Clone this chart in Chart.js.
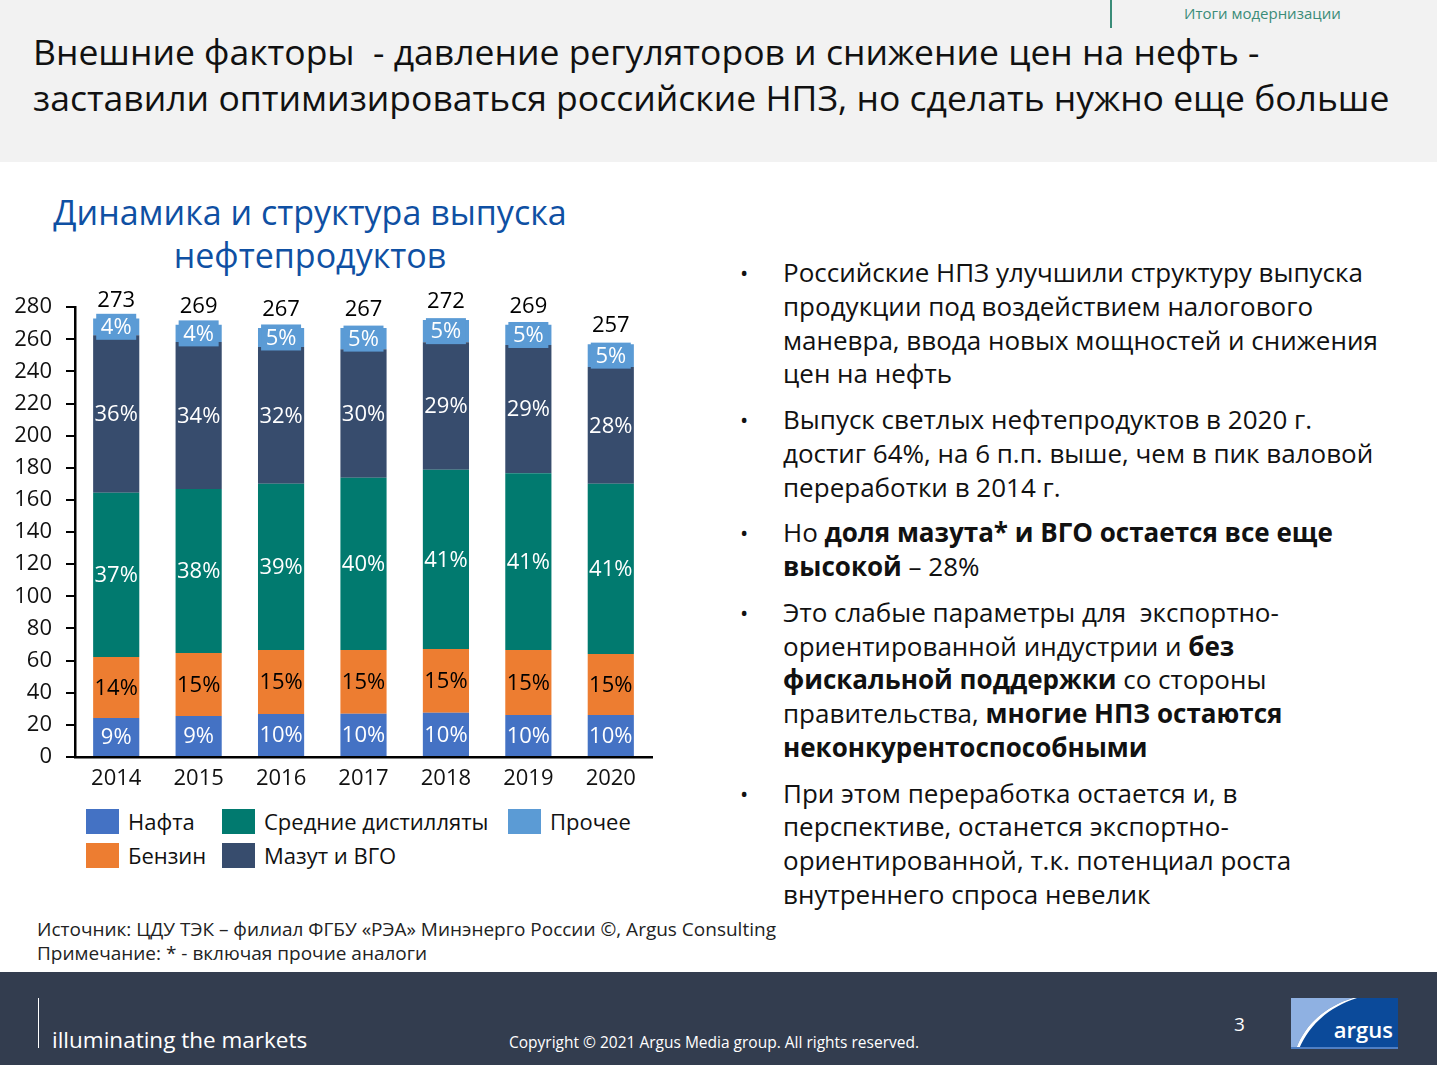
<!DOCTYPE html>
<html lang="ru">
<head>
<meta charset="utf-8">
<title>Динамика и структура выпуска нефтепродуктов</title>
<script src="https://cdn.jsdelivr.net/npm/chart.js@4.4.1/dist/chart.umd.min.js"></script>
<style>
  body { margin: 0; width: 1437px; height: 1065px; overflow: hidden; background: #fff; font-family: "Open Sans", "Noto Sans", sans-serif; color: #111; }
  .abs { position: absolute; }
  #header { left: 0; top: 0; width: 1437px; height: 162px; background: #f2f2f2; }
  #headTitle { left: 33px; top: 28px; font-size: 35.5px; line-height: 46px; white-space: nowrap; color: #111; }
  #section { left: 1184px; top: 3px; font-size: 15px; color: #3a8c78; }
  #sectionLine { left: 1110px; top: 0; width: 2px; height: 28px; background: #3a8c78; }
  #chartTitle { left: 20px; top: 191px; width: 580px; text-align: center; font-size: 34px; line-height: 43px; color: #0f50a3; }
  #chartBox { left: 0; top: 280px; width: 670px; height: 520px; }
  #legend { left: 86px; top: 804px; display: grid; grid-template-columns: 136px 286px auto; grid-template-rows: 34px 34px; grid-auto-flow: column; font-size: 22px; }
  #legend .it { display: flex; align-items: center; white-space: nowrap; }
  #legend .sw { width: 33px; height: 25px; margin-right: 9px; }
  #bullets { left: 740px; top: 256px; width: 690px; font-size: 26px; line-height: 33.75px; }
  #bullets .p { position: relative; padding-left: 43px; margin-bottom: 12px; white-space: nowrap; }
  #bullets .p::before { content: "•"; position: absolute; left: 0; top: 0; font-size: 22px; }
  #source { left: 37px; top: 917px; font-size: 19px; line-height: 24px; color: #222; }
  #footer { left: 0; top: 972px; width: 1437px; height: 93px; background: #333d4f; }
  #fLine { left: 38px; top: 998px; width: 1px; height: 50px; background: #fff; }
  #tagline { left: 52px; top: 1024px; font-size: 22.5px; color: #fff; }
  #copy { left: 509px; top: 1031px; font-size: 15.5px; color: #fff; }
  #page { left: 1234px; top: 1011px; font-size: 19px; color: #fff; }
  #logo { left: 1291px; top: 998px; }
</style>
</head>
<body>
<div id="header" class="abs"></div>
<div id="sectionLine" class="abs"></div>
<div id="section" class="abs">Итоги модернизации</div>
<div id="headTitle" class="abs">Внешние факторы&nbsp; - давление регуляторов и снижение цен на нефть -<br>заставили оптимизироваться российские НПЗ, но сделать нужно еще больше</div>

<div id="chartTitle" class="abs">Динамика и структура выпуска<br>нефтепродуктов</div>
<div id="chartBox" class="abs"><canvas id="myChart"></canvas></div>
<div id="legend" class="abs"></div>

<div id="bullets" class="abs">
  <div class="p">Российские НПЗ улучшили структуру выпуска<br>продукции под воздействием налогового<br>маневра, ввода новых мощностей и снижения<br>цен на нефть</div>
  <div class="p">Выпуск светлых нефтепродуктов в 2020 г.<br>достиг 64%, на 6 п.п. выше, чем в пик валовой<br>переработки в 2014 г.</div>
  <div class="p">Но <b>доля мазута* и ВГО остается все еще<br>высокой</b> – 28%</div>
  <div class="p">Это слабые параметры для&nbsp; экспортно-<br>ориентированной индустрии и <b>без<br>фискальной поддержки</b> со стороны<br>правительства, <b>многие НПЗ остаются<br>неконкурентоспособными</b></div>
  <div class="p">При этом переработка остается и, в<br>перспективе, останется экспортно-<br>ориентированной, т.к. потенциал роста<br>внутреннего спроса невелик</div>
</div>

<div id="source" class="abs">Источник: ЦДУ ТЭК – филиал ФГБУ «РЭА» Минэнерго России ©, Argus Consulting<br>Примечание: * - включая прочие аналоги</div>

<div id="footer" class="abs"></div>
<div id="fLine" class="abs"></div>
<div id="tagline" class="abs">illuminating the markets</div>
<div id="copy" class="abs">Copyright © 2021 Argus Media group. All rights reserved.</div>
<div id="page" class="abs">3</div>
<svg id="logo" class="abs" width="107" height="51" viewBox="0 0 107 51">
  <rect width="107" height="51" fill="#0b4a9a"/>
  <path d="M0 0 H62 C35 8 14 26 5 51 H0 Z" fill="#8fb1e2"/>
  <path d="M62 0 C35 8 14 26 5 51 H8 C18 27 38 9 66 0 Z" fill="#ffffff"/>
  <text x="102" y="40" text-anchor="end" font-family="Open Sans" font-size="22" font-weight="600" fill="#fff">argus</text>
  <rect y="49" width="107" height="2" fill="#4f7fc4"/>
</svg>

<script>
var years = ['2014', '2015', '2016', '2017', '2018', '2019', '2020'];
var totals = [273, 269, 267, 267, 272, 269, 257];

// млн т
var nafta  = [24.3, 25.5, 26.8, 26.9, 27.6, 26.1, 26.1];
var benzin = [38.0, 39.2, 39.8, 39.7, 39.6, 40.5, 38.0];
var middle = [102.2, 102.1, 103.5, 107.2, 111.6, 110.1, 106.0];
var mazut  = [98.1, 91.6, 85.2, 80.1, 79.4, 79.7, 72.6];
var other  = [10.4, 10.6, 11.7, 13.1, 13.8, 12.6, 14.3];

// подписи долей
var naftaPct  = [9, 9, 10, 10, 10, 10, 10];
var benzinPct = [14, 15, 15, 15, 15, 15, 15];
var middlePct = [37, 38, 39, 40, 41, 41, 41];
var mazutPct  = [36, 34, 32, 30, 29, 29, 28];
var otherPct  = [4, 4, 5, 5, 5, 5, 5];

var yTicks = [0, 20, 40, 60, 80, 100, 120, 140, 160, 180, 200, 220, 240, 260, 280];

var FONT = '"Open Sans", "Noto Sans", sans-serif';

var barLabels = {
    id: 'barLabels',
    afterDatasetsDraw: function(chart) {
        var ctx = chart.ctx;
        ctx.save();
        ctx.font = '22px ' + FONT;
        ctx.textAlign = 'center';
        ctx.textBaseline = 'middle';
        chart.data.datasets.forEach(function(ds, i) {
            var meta = chart.getDatasetMeta(i);
            meta.data.forEach(function(bar, j) {
                var cy = (bar.y + bar.base) / 2;
                if (ds.boxLabel) {
                    ctx.fillStyle = ds.backgroundColor;
                    ctx.fillRect(bar.x - 20, cy - 13, 40, 26);
                }
                ctx.fillStyle = ds.labelColor;
                ctx.fillText(ds.pct[j] + '%', bar.x, cy + 1);
            });
        });
        // итог над столбцом
        var top = chart.getDatasetMeta(chart.data.datasets.length - 1);
        ctx.fillStyle = '#000';
        top.data.forEach(function(bar, j) {
            ctx.fillText(totals[j], bar.x, bar.y - 18);
        });
        ctx.restore();
    }
};

var ctx = document.getElementById('myChart').getContext('2d');
var myChart = new Chart(ctx, {
    type: 'bar',
    data: {
        labels: years,
        datasets: [
            { label: 'Нафта', data: nafta, pct: naftaPct, backgroundColor: '#4472c4', labelColor: '#fff' },
            { label: 'Бензин', data: benzin, pct: benzinPct, backgroundColor: '#ed7d31', labelColor: '#000' },
            { label: 'Средние дистилляты', data: middle, pct: middlePct, backgroundColor: '#017a6f', labelColor: '#fff' },
            { label: 'Мазут и ВГО', data: mazut, pct: mazutPct, backgroundColor: '#374c6d', labelColor: '#fff' },
            { label: 'Прочее', data: other, pct: otherPct, backgroundColor: '#5b9bd5', labelColor: '#fff', boxLabel: true }
        ]
    },
    options: {
        responsive: true,
        maintainAspectRatio: false,
        animation: false,
        barPercentage: 0.56,
        categoryPercentage: 1,
        layout: { padding: { top: 27, right: 18, left: 0, bottom: 0 } },
        plugins: {
            legend: { display: false },
            tooltip: { enabled: false }
        },
        scales: {
            x: {
                stacked: true,
                grid: { display: false, drawTicks: false },
                border: { display: true, color: '#000', width: 2.5 },
                ticks: { color: '#111', font: { family: FONT, size: 22 }, padding: 9 },
                afterFit: function(scale) { scale.height = 43; }
            },
            y: {
                stacked: true,
                min: 0,
                max: 280,
                afterBuildTicks: function(scale) {
                    scale.ticks = yTicks.map(function(v) { return { value: v }; });
                },
                grid: { drawOnChartArea: false, color: '#000', tickColor: '#000', lineWidth: 2, tickLength: 9 },
                border: { display: true, color: '#000', width: 2.5 },
                ticks: { color: '#111', font: { family: FONT, size: 22 }, padding: 14 },
                afterFit: function(scale) { scale.width = 75; }
            }
        }
    },
    plugins: [barLabels]
});

// легенда в две строки, по столбцам
var legend = document.getElementById('legend');
myChart.data.datasets.forEach(function(ds) {
    var it = document.createElement('div');
    it.className = 'it';
    it.innerHTML = '<span class="sw" style="background:' + ds.backgroundColor + '"></span>' + ds.label;
    legend.appendChild(it);
});
</script>
</body>
</html>
